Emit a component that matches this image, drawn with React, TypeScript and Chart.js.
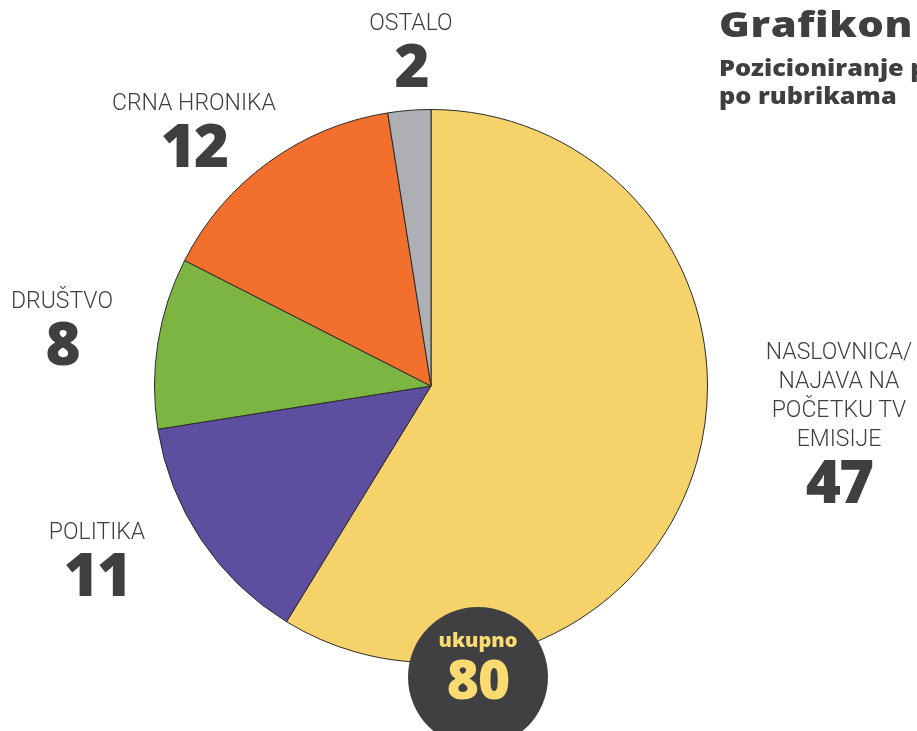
import React, { useEffect, useRef } from "react";
import { Chart, registerables } from "chart.js";

Chart.register(...registerables);

const categories = ["NASLOVNICA/ NAJAVA NA POČETKU TV EMISIJE", "POLITIKA", "DRUŠTVO", "CRNA HRONIKA", "OSTALO"];
const values = [47, 11, 8, 12, 2];
const colors = ["#F5D36A", "#5E4E9F", "#7CB542", "#F26F2E", "#AEAFB3"];
const total = 80;
const titleText = "Grafikon";
const subtitleLines = ["Pozicioniranje p", "po rubrikama"];
const totalLabel = "ukupno";

const labelFont = "Roboto, 'Open Sans', sans-serif";
const numFont = "'Open Sans', 'Noto Sans', sans-serif";
const textColor = "#3f3f41";

type LabelPos = { lines: string[]; value: number; cx: number; top: number };
const labelLayout: LabelPos[] = [
  { lines: ["NASLOVNICA/", "NAJAVA NA", "POČETKU TV", "EMISIJE"], value: values[0], cx: 839, top: 337 },
  { lines: ["POLITIKA"], value: values[1], cx: 97, top: 517 },
  { lines: ["DRUŠTVO"], value: values[2], cx: 62, top: 286 },
  { lines: ["CRNA HRONIKA"], value: values[3], cx: 194, top: 88 },
  { lines: ["OSTALO"], value: values[4], cx: 411, top: 8 },
];

export default function App() {
  const ref = useRef<HTMLCanvasElement | null>(null);
  useEffect(() => {
    if (!ref.current) return;
    const chart = new Chart(ref.current, {
      type: "pie",
      data: {
        labels: categories,
        datasets: [
          {
            data: values,
            backgroundColor: colors,
            borderColor: "#2a2a2a",
            borderWidth: 1,
          },
        ],
      },
      options: {
        animation: false,
        responsive: false,
        maintainAspectRatio: false,
        layout: { padding: { left: 154, right: 209, top: 109, bottom: 68 } },
        plugins: { legend: { display: false }, tooltip: { enabled: false } },
      },
    });
    return () => chart.destroy();
  }, []);

  return (
    <div style={{ position: "absolute", left: 0, top: 0, width: 917, height: 731, overflow: "hidden", background: "#fff" }}>
      <canvas ref={ref} width={917} height={731} style={{ position: "absolute", left: 0, top: 0 }} />
      {labelLayout.map((l, i) => (
        <div
          key={i}
          style={{
            position: "absolute",
            left: l.cx - 100,
            width: 200,
            top: l.top,
            textAlign: "center",
            color: textColor,
          }}
        >
          {l.lines.map((ln, j) => (
            <div key={j} style={{ font: `300 23px ${labelFont}`, lineHeight: "29px" }}>
              {ln}
            </div>
          ))}
          <div style={{ font: `800 60px ${numFont}`, lineHeight: "58px", marginTop: -2, letterSpacing: -2 }}>{l.value}</div>
        </div>
      ))}
      <div style={{ position: "absolute", left: 719, top: 0, color: textColor, whiteSpace: "nowrap" }}>
        <div
          style={{
            font: `800 36px ${numFont}`,
            lineHeight: "48px",
            letterSpacing: 0.5,
            transform: "scaleX(1.16)",
            transformOrigin: "left center",
          }}
        >
          {titleText}
        </div>
        <div style={{ marginTop: 5 }}>
          {subtitleLines.map((s, i) => (
            <div
              key={i}
              style={{
                font: `800 22px ${numFont}`,
                lineHeight: "28px",
                transform: "scaleX(1.15)",
                transformOrigin: "left center",
              }}
            >
              {s}
            </div>
          ))}
        </div>
      </div>
      <div
        style={{
          position: "absolute",
          left: 478 - 70,
          top: 677 - 70,
          width: 140,
          height: 140,
          borderRadius: "50%",
          background: "#404042",
        }}
      />
      <div style={{ position: "absolute", left: 478 - 70, width: 140, top: 628, textAlign: "center", color: "#F9DB72" }}>
        <div style={{ font: `800 20px ${numFont}`, lineHeight: "24px" }}>{totalLabel}</div>
        <div style={{ font: `800 55px ${numFont}`, lineHeight: "52px", letterSpacing: -1 }}>{total}</div>
      </div>
    </div>
  );
}
